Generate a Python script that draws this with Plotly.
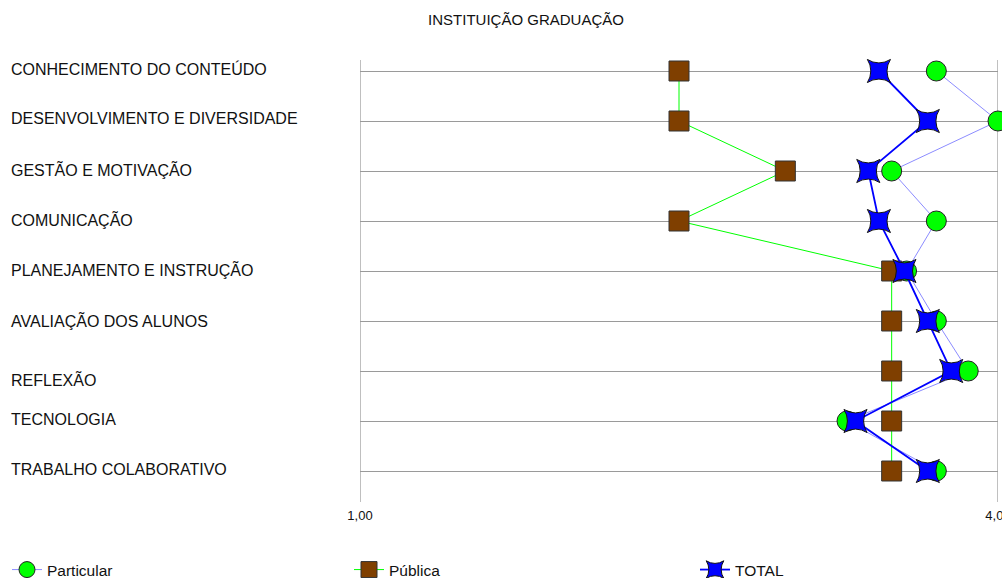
import plotly.graph_objects as go

categories = [
    "CONHECIMENTO DO CONTEÚDO",
    "DESENVOLVIMENTO E DIVERSIDADE",
    "GESTÃO E MOTIVAÇÃO",
    "COMUNICAÇÃO",
    "PLANEJAMENTO E INSTRUÇÃO",
    "AVALIAÇÃO DOS ALUNOS",
    "REFLEXÃO",
    "TECNOLOGIA",
    "TRABALHO COLABORATIVO",
]
particular = [3.71, 4.00, 3.50, 3.71, 3.57, 3.71, 3.86, 3.29, 3.71]
publica = [2.50, 2.50, 3.00, 2.50, 3.50, 3.50, 3.50, 3.50, 3.50]
total = [3.44, 3.67, 3.39, 3.44, 3.56, 3.67, 3.78, 3.33, 3.67]
x_ticks = [1, 4]

rows = list(range(len(categories)))
label_yshift = [2, 3, 2, 2, 2, 1, -8, 2, 2]

FONT = "Liberation Sans, Arial, sans-serif"
W, H = 1002, 578

fig = go.Figure()
fig.add_trace(go.Scatter(
    x=particular, y=rows, name="Particular", mode="lines+markers",
    line=dict(color="#8c8cff", width=1),
    marker=dict(symbol="circle", size=20, color="#00ff00",
                line=dict(color="#222222", width=1)),
    cliponaxis=False, legend="legend",
))
fig.add_trace(go.Scatter(
    x=publica, y=rows, name="Pública", mode="lines+markers",
    line=dict(color="#00ff00", width=1),
    marker=dict(symbol="square", size=20, color="#7f3f00",
                line=dict(color="#333333", width=1)),
    cliponaxis=False, legend="legend2",
))
fig.add_trace(go.Scatter(
    x=total, y=rows, name="TOTAL", mode="lines+markers",
    line=dict(color="#0000ff", width=1.8),
    marker=dict(symbol="star-square", size=21, color="#0000ff",
                line=dict(color="#111111", width=1)),
    cliponaxis=False, legend="legend3",
))

annotations = []
for r, c, s in zip(rows, categories, label_yshift):
    annotations.append(dict(
        x=0, xref="paper", y=r, yref="y", text=c, showarrow=False,
        xanchor="left", yanchor="middle", xshift=-351, yshift=s,
        font=dict(family=FONT, size=16, color="#111111"),
    ))

shapes = [
    dict(type="line", xref="x", yref="paper", x0=1, x1=1, y0=0, y1=1,
         line=dict(color="#808080", width=1), layer="below"),
    dict(type="line", xref="x", yref="paper", x0=4, x1=4, y0=0, y1=1,
         line=dict(color="#c0c0c0", width=2), layer="below"),
]


def legend_at(px):
    return dict(orientation="h", xref="container", yref="container",
                x=px / W, y=1 - 570 / H, xanchor="left", yanchor="middle",
                font=dict(family=FONT, size=15.5, color="#111111"),
                bgcolor="rgba(0,0,0,0)", borderwidth=0)


fig.update_layout(
    width=W, height=H,
    margin=dict(l=360, r=4, t=60, b=76, autoexpand=False),
    paper_bgcolor="white", plot_bgcolor="white",
    separators=",.",
    title=dict(text="INSTITUIÇÃO GRADUAÇÃO", x=0.525, xref="container",
               y=1 - 20 / H, yref="container", xanchor="center", yanchor="middle",
               font=dict(family=FONT, size=15, color="#111111")),
    xaxis=dict(range=[1, 4], tickvals=x_ticks, tickformat=".2f",
               showgrid=False, zeroline=False, showline=False, ticks="",
               ticklabelstandoff=4, ticklabeloverflow="allow",
               tickfont=dict(family=FONT, size=13, color="#111111")),
    yaxis=dict(range=[8.62, -0.22], tickvals=rows, showticklabels=False,
               showgrid=True, gridcolor="#9a9a9a", gridwidth=1,
               zeroline=False, showline=False, ticks=""),
    showlegend=True,
    legend=legend_at(7),
    legend2=legend_at(349),
    legend3=legend_at(695),
    annotations=annotations,
    shapes=shapes,
)

fig.write_html("out.html", config={"displayModeBar": False},
               post_script="document.body.style.margin='0px';")
